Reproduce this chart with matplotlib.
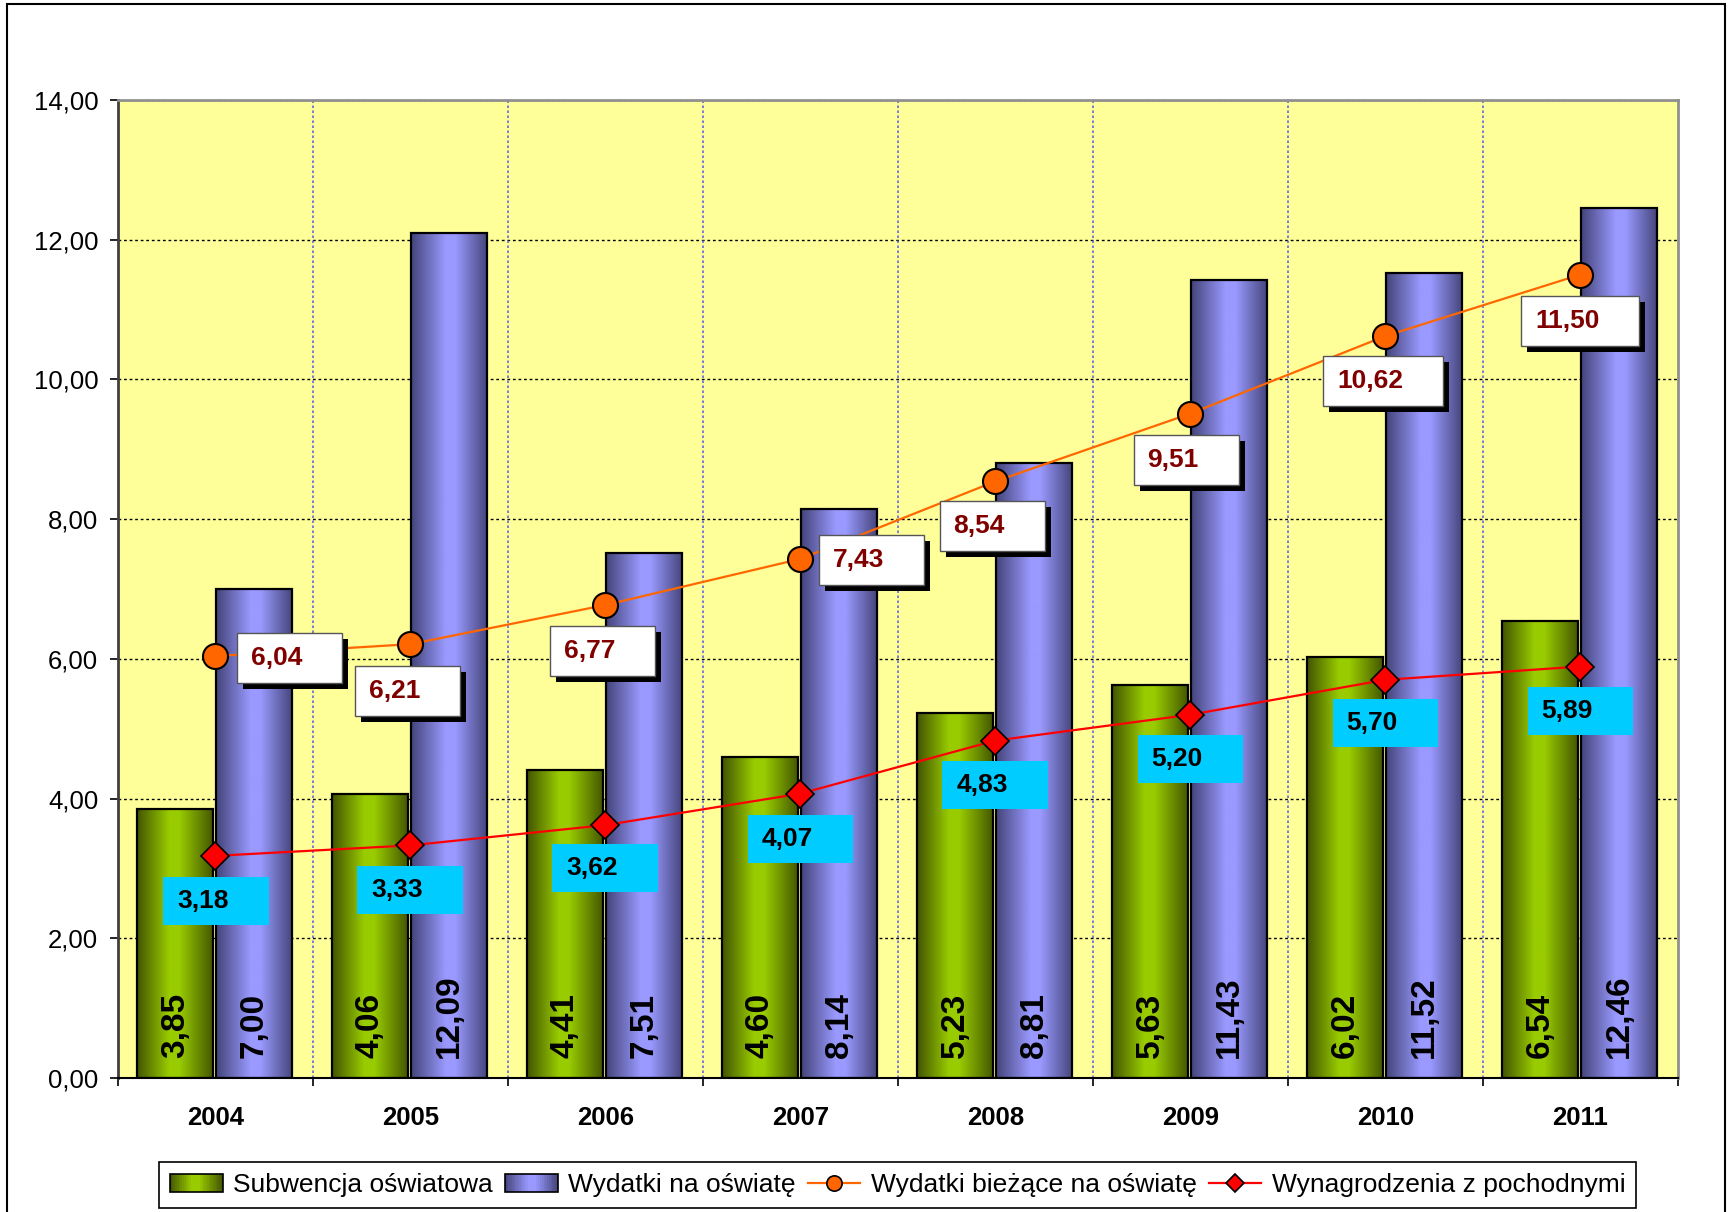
import numpy as np
import matplotlib
matplotlib.use("Agg")
import matplotlib.pyplot as plt
from matplotlib.patches import Rectangle, Patch
from matplotlib.lines import Line2D
from matplotlib.colors import LinearSegmentedColormap
from matplotlib.transforms import IdentityTransform
from matplotlib.legend_handler import HandlerBase

plt.rcParams['font.family'] = ['Liberation Sans', 'DejaVu Sans']

# data
years = ['2004', '2005', '2006', '2007', '2008', '2009', '2010', '2011']
subwencja = [3.85, 4.06, 4.41, 4.60, 5.23, 5.63, 6.02, 6.54]
wydatki = [7.00, 12.09, 7.51, 8.14, 8.81, 11.43, 11.52, 12.46]
biezace = [6.04, 6.21, 6.77, 7.43, 8.54, 9.51, 10.62, 11.50]
wynagrodzenia = [3.18, 3.33, 3.62, 4.07, 4.83, 5.20, 5.70, 5.89]

# label box offsets from the markers (pixels: right, down)
biezace_off = [(74, 2), (-3, 47), (-3, 46), (71, 1), (-3, 45), (-4, 46), (-2, 45), (0, 46)]
wynagr_off = [(1, 45), (0, 45), (0, 43), (0, 45), (0, 44), (0, 44), (0, 43), (0, 44)]

green_cm = LinearSegmentedColormap.from_list(
    'g', [(0, '#435500'), (0.42, '#99cc00'), (0.55, '#99cc00'), (1, '#435500')])
blue_cm = LinearSegmentedColormap.from_list(
    'b', [(0, '#44447a'), (0.45, '#9999ff'), (0.58, '#9999ff'), (1, '#44447a')])


def pl(v):
    return f"{v:.2f}".replace('.', ',')


fig = plt.figure(figsize=(17.29, 12.12), dpi=100)
ax = fig.add_axes([117.7 / 1729, 134 / 1212, 1560 / 1729, 978 / 1212])
ax.set_facecolor('#ffff99')

x = np.arange(len(years))
grad = np.linspace(0, 1, 200).reshape(1, -1)
w = 0.39
for xs, vals, cm in [(x - 0.205, subwencja, green_cm), (x + 0.2, wydatki, blue_cm)]:
    for xc, v in zip(xs, vals):
        ax.imshow(grad, extent=[xc - w / 2, xc + w / 2, 0, v], aspect='auto',
                  cmap=cm, zorder=2, interpolation='bilinear')
        ax.add_patch(Rectangle((xc - w / 2, 0), w, v, fill=False,
                               ec='black', lw=1.6, zorder=3))
        ax.annotate(pl(v), (xc, 0), xytext=(0, 20), textcoords='offset pixels',
                    rotation=90, ha='center', va='bottom', fontsize=24,
                    fontweight='bold', zorder=4)

ax.plot(x, biezace, color='#ff6600', lw=1.6, marker='o', ms=18,
        mfc='#ff6600', mec='black', mew=1.5, zorder=5)
ax.plot(x, wynagrodzenia, color='#ff0000', lw=1.6, marker='D', ms=14,
        mfc='#ff0000', mec='black', mew=1.2, zorder=5)

ax.set_xlim(-0.5, 7.5)
ax.set_ylim(0, 14)
ax.set_yticks(np.arange(0, 15, 2))
ax.set_yticklabels([pl(v) for v in np.arange(0, 15, 2)], fontsize=18.5)
ax.tick_params(axis='y', length=6, width=1.2, pad=8)
ax.set_xticks(np.arange(-0.5, 8, 1))
ax.set_xticklabels([])
ax.set_xticks(x, minor=True)
ax.set_xticklabels(years, minor=True, fontsize=18.5, fontweight='bold')
ax.tick_params(axis='x', which='major', length=6, width=1.2)
ax.tick_params(axis='x', which='minor', length=0, pad=20)
ax.yaxis.grid(True, color='black', ls=(0, (2, 2)), lw=1, zorder=1)
ax.set_axisbelow(True)
for b in x[:-1] + 0.5:
    ax.axvline(b, color='#6666dd', ls=(0, (1.5, 1.5)), lw=1.2, zorder=1)

ax.spines['left'].set_color('#404040')
ax.spines['left'].set_linewidth(2)
ax.spines['bottom'].set_color('black')
ax.spines['bottom'].set_linewidth(1.5)
for s in ['top', 'right']:
    ax.spines[s].set_color('#909090')
    ax.spines[s].set_linewidth(2)

# data label boxes, positioned in pixels
renderer = fig.canvas.get_renderer()


def label_box(xv, yv, off, text, fc, tc, h, shadow):
    mx, my = ax.transData.transform((xv, yv))
    cx, cy = mx + off[0], my - off[1]
    t = fig.text(0, cy, text, transform=IdentityTransform(), ha='left', va='center',
                 fontsize=19, fontweight='bold', color=tc, zorder=12)
    tw = t.get_window_extent(renderer).width
    bw = tw + 54
    left = cx - bw / 2
    t.set_x(left + 14)
    if shadow:
        fig.add_artist(Rectangle((left + 6, cy - h / 2 - 6), bw, h, transform=IdentityTransform(),
                                 fc='black', ec='none', zorder=10))
    fig.add_artist(Rectangle((left, cy - h / 2), bw, h, transform=IdentityTransform(),
                             fc=fc, ec='#555555' if shadow else 'none', lw=1, zorder=11))


for i in range(len(years)):
    label_box(x[i], biezace[i], biezace_off[i], pl(biezace[i]), 'white', '#800000', 50, True)
    label_box(x[i], wynagrodzenia[i], wynagr_off[i], pl(wynagrodzenia[i]), '#00ccff', 'black', 48, False)

# outer frame
fig.add_artist(Rectangle((7, -20), 1718, 1228, transform=IdentityTransform(),
                         fill=False, ec='black', lw=1.5, zorder=20))


class GradHandler(HandlerBase):
    def __init__(self, cmap):
        super().__init__()
        self.cmap = cmap

    def create_artists(self, legend, orig_handle, xdescent, ydescent, width, height, fontsize, trans):
        n = 30
        arts = []
        for k in range(n):
            arts.append(Rectangle((-xdescent + k * width / n, -ydescent), width / n + 0.02, height,
                                  fc=self.cmap((k + 0.5) / n), ec='none', transform=trans))
        arts.append(Rectangle((-xdescent, -ydescent), width, height, fill=False,
                              ec='black', lw=1.2, transform=trans))
        return arts


h_sub = Patch(label='Subwencja oświatowa')
h_wyd = Patch(label='Wydatki na oświatę')
h_bie = Line2D([], [], color='#ff6600', lw=1.6, marker='o', ms=11, mfc='#ff6600',
               mec='black', mew=1.2, label='Wydatki bieżące na oświatę')
h_wyn = Line2D([], [], color='#ff0000', lw=1.6, marker='D', ms=9, mfc='#ff0000',
               mec='black', mew=1.2, label='Wynagrodzenia z pochodnymi')
leg = fig.legend(handles=[h_sub, h_wyd, h_bie, h_wyn], ncol=4, loc='center',
                 bbox_to_anchor=(897.7 / 1729, 1 - 1185 / 1212), fontsize=19,
                 frameon=True, fancybox=False, edgecolor='black', framealpha=1,
                 handlelength=2.0, handletextpad=0.4, columnspacing=0.45,
                 borderpad=0.4, handler_map={h_sub: GradHandler(green_cm),
                                             h_wyd: GradHandler(blue_cm)})
leg.get_frame().set_linewidth(1.2)

fig.savefig('out.png', dpi=100)
